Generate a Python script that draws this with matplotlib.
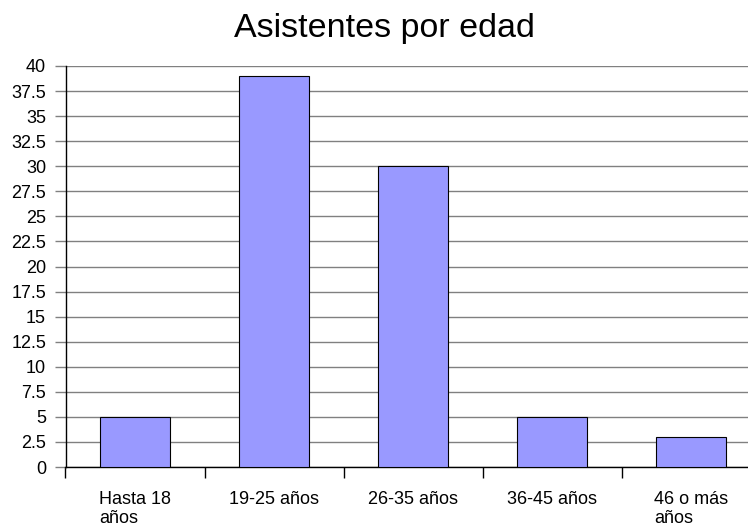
import matplotlib
matplotlib.use("Agg")
import matplotlib.pyplot as plt
import numpy as np

categories = ["Hasta 18\naños", "19-25 años", "26-35 años", "36-45 años", "46 o más\naños"]
values = [5, 39, 30, 5, 3]
yticks = [0, 2.5, 5, 7.5, 10, 12.5, 15, 17.5, 20, 22.5, 25, 27.5, 30, 32.5, 35, 37.5, 40]

plt.rcParams['font.family'] = ['Liberation Sans', 'DejaVu Sans']

fig = plt.figure(figsize=(7.48, 5.29), dpi=100)
ax = fig.add_axes([65.5/748, 1-467/529, 695/748, (467-66)/529])

x = np.arange(len(categories))
ax.bar(x, values, width=0.5, color='#9999FF', edgecolor='black', linewidth=0.8, zorder=3)

ax.set_xlim(-0.5, len(categories)-0.5)
ax.set_ylim(0, 40)
ax.set_yticks(yticks)
ax.set_yticklabels([f"{v:g}" for v in yticks], fontsize=13)
ax.yaxis.grid(True, color='#808080', linewidth=1.0, zorder=0)
ax.set_axisbelow(True)

ax.set_xticks(x)
ax.set_xticklabels(categories, fontsize=13, multialignment='left', linespacing=1.15)
ax.tick_params(axis='x', which='major', length=0, pad=17)
ax.set_xticks(np.arange(-0.5, len(categories)+0.5, 1), minor=True)
ax.tick_params(axis='x', which='minor', length=8, width=1, color='black', direction='out')
ax.tick_params(axis='y', length=8, width=1, color='#808080', direction='out', pad=6)

for s in ['top', 'right']:
    ax.spines[s].set_visible(False)
ax.spines['left'].set_color('black')
ax.spines['bottom'].set_color('black')
ax.spines['left'].set_linewidth(1.0)
ax.spines['bottom'].set_linewidth(1.0)

fig.text(384/748, 1-37/529, "Asistentes por edad", fontsize=24.5, ha='center', va='baseline')

fig.savefig("out.png", dpi=100)
